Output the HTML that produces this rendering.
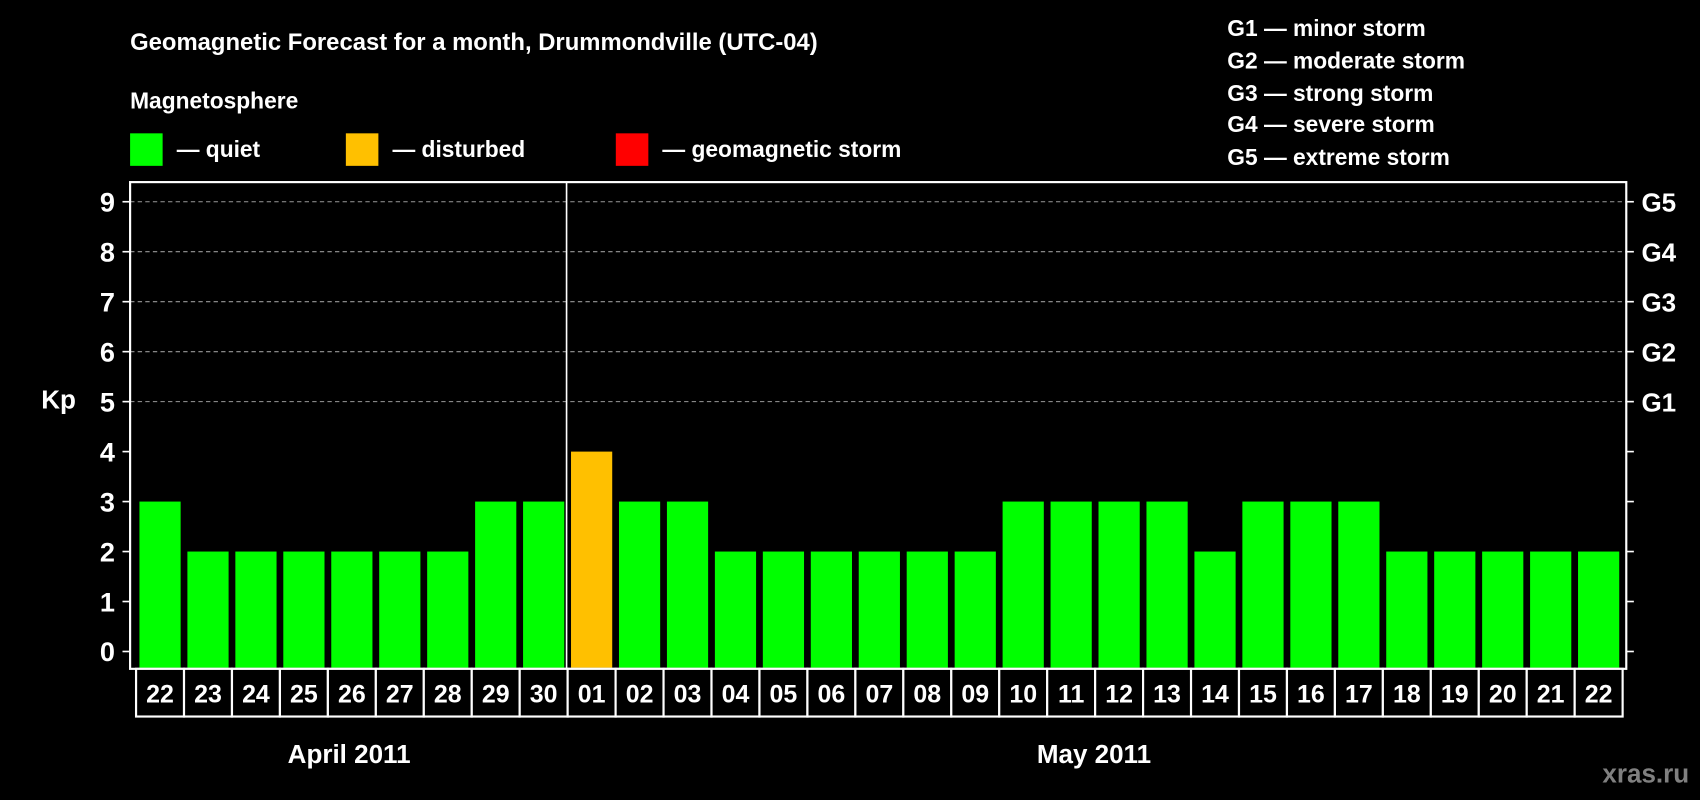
<!DOCTYPE html>
<html><head><meta charset="utf-8"><style>
html,body{margin:0;padding:0;background:#000;}
svg{display:block;font-family:"Liberation Sans",sans-serif;font-weight:bold;}
</style></head><body>
<svg id="chart" width="1700" height="800" viewBox="0 0 1568 738" preserveAspectRatio="none" xmlns="http://www.w3.org/2000/svg">
<rect x="0" y="0" width="1568" height="738" fill="#000"/>
<text x="120" y="46" fill="#fff" font-size="22">Geomagnetic Forecast for a month, Drummondville (UTC-04)</text>
<text x="120" y="100" fill="#fff" font-size="21">Magnetosphere</text>
<g><rect x="120" y="123" width="30" height="30" fill="#00ff00"/><text x="163" y="145" fill="#fff" font-size="21">— quiet</text></g>
<g><rect x="319" y="123" width="30" height="30" fill="#ffc000"/><text x="362" y="145" fill="#fff" font-size="21">— disturbed</text></g>
<g><rect x="568" y="123" width="30" height="30" fill="#ff0000"/><text x="611" y="145" fill="#fff" font-size="21">— geomagnetic storm</text></g>
<g fill="#fff" font-size="21">
<text x="1132" y="33">G1 — minor storm</text>
<text x="1132" y="63">G2 — moderate storm</text>
<text x="1132" y="93">G3 — strong storm</text>
<text x="1132" y="122">G4 — severe storm</text>
<text x="1132" y="152">G5 — extreme storm</text>
</g>
<text x="38" y="377" fill="#fff" font-size="24">Kp</text>
<g id="grid"></g>
<g id="bars"></g>
<g id="axes"></g>
<text x="322" y="704" fill="#fff" font-size="24" text-anchor="middle">April 2011</text>
<text x="1009" y="704" fill="#fff" font-size="24" text-anchor="middle">May 2011</text>
<text x="1558" y="722" fill="#808080" font-size="24" text-anchor="end">xras.ru</text>
</svg>
<script>
const days = ["22","23","24","25","26","27","28","29","30","01","02","03","04","05","06","07","08","09","10","11","12","13","14","15","16","17","18","19","20","21","22"];
const kpValues = [3,2,2,2,2,2,2,3,3,4,3,3,2,2,2,2,2,2,3,3,3,3,2,3,3,3,2,2,2,2,2];
const yTicks = [0,1,2,3,4,5,6,7,8,9];
const gLabels = ["","","","","","G1","G2","G3","G4","G5"];
const monthSplitIndex = 9;

const NS = "http://www.w3.org/2000/svg";
const L = 120, R = 1500, T = 168, B = 617, cellB = 661;
const y0 = 601, unit = 46.1;
const firstX = 125.5, pitch = 44.23, barW = 38;
function yScale(v){ return y0 - v*unit; }
function xScale(i){ return firstX + i*pitch; }
function mk(tag, attrs, parent){ const e=document.createElementNS(NS,tag); for(const k in attrs) e.setAttribute(k,attrs[k]); parent.appendChild(e); return e; }
function color(v){ return v>=5 ? "#ff0000" : (v>=4 ? "#ffc000" : "#00ff00"); }

const grid = document.getElementById("grid"), bars = document.getElementById("bars"), axes = document.getElementById("axes");
yTicks.forEach((t,i)=>{
  const y = yScale(t);
  if (t>=5) { const g = mk("line",{x1:L,x2:R,y1:y,y2:y,stroke:"#999","stroke-dasharray":"4,3","stroke-width":1},grid);
    
     }
  const lt = mk("line",{x1:L-7,x2:L,y1:y,y2:y,stroke:"#fff","stroke-width":1.5},axes);
  
  
  const rt = mk("line",{x1:R,x2:R+7,y1:y,y2:y,stroke:"#fff","stroke-width":1.5},axes);
  
  
  const tx = mk("text",{x:L-14,y:y+9,fill:"#fff","font-size":25,"text-anchor":"end"},axes);
  tx.textContent = t;
  
  
  if (gLabels[i]) { const gt = mk("text",{x:R+14,y:y+9,fill:"#fff","font-size":24},axes);
    gt.textContent = gLabels[i];
    
     }
});
kpValues.forEach((v,i)=>{
  const x = xScale(i)+ (pitch-barW)/2;
  const r = mk("rect",{x:x,y:yScale(v),width:barW,height:B-1-yScale(v),fill:color(v)},bars);
  
  
});
const frame = mk("rect",{x:L,y:T,width:R-L,height:B-T,fill:"none",stroke:"#fff","stroke-width":2},axes);


const divX = xScale(monthSplitIndex)-1;
const dv = mk("line",{x1:divX,x2:divX,y1:T,y2:B,stroke:"#fff","stroke-width":1.5},axes);


days.forEach((d,i)=>{
  const x = xScale(i);
  const c = mk("rect",{x:x,y:B,width:pitch,height:cellB-B,fill:"#000",stroke:"#fff","stroke-width":2},axes);
  
  
  const t = mk("text",{x:x+pitch/2,y:B+31,fill:"#fff","font-size":23,"text-anchor":"middle"},axes);
  t.textContent = d;
  
  
});
</script>
</body></html>
